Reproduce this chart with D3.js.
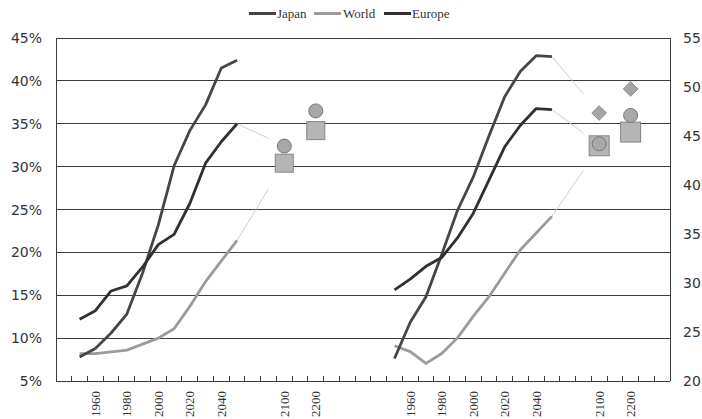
<!DOCTYPE html>
<html><head><meta charset="utf-8">
<script src="https://cdn.jsdelivr.net/npm/d3@7"></script>
<style>body{margin:0;background:#fff}svg{display:block}</style>
</head><body><svg id="c" width="702" height="419"></svg>
<script>
// ---- data ----
const categories = ["", "1950","1960","1970","1980","1990","2000","2010","2020","2030","2040","2050","", "", "2100", "", "2200", "", "", "",
                    "", "1950","1960","1970","1980","1990","2000","2010","2020","2030","2040","2050","", "", "2100", "", "2200", "", ""];
const shownLabels = ["1960","1980","2000","2020","2040","2100","2200"];
const years = ["1950","1960","1970","1980","1990","2000","2010","2020","2030","2040","2050"];
// left panel: share aged 60+ (%)
const japanShare  = [7.8, 8.8, 10.6, 12.8, 17.6, 23.2, 30.1, 34.2, 37.2, 41.5, 42.4];
const worldShare  = [8.2, 8.2, 8.4, 8.6, 9.3, 10.0, 11.1, 13.7, 16.6, 19.0, 21.4];
const europeShare = [12.2, 13.2, 15.5, 16.1, 18.3, 20.9, 22.1, 25.7, 30.4, 32.9, 35.0];
// right panel: median age (years)
const japanMedian  = [22.3, 26.0, 28.6, 32.9, 37.4, 40.8, 45.0, 49.0, 51.6, 53.2, 53.1];
const worldMedian  = [23.6, 23.0, 21.8, 22.8, 24.4, 26.6, 28.6, 31.0, 33.4, 35.1, 36.8];
const europeMedian = [29.3, 30.4, 31.7, 32.6, 34.6, 37.1, 40.5, 43.9, 46.1, 47.8, 47.7];
// long-run projections (markers)
const shareWorldProj   = {"2100": 30.4, "2200": 34.2};
const shareEuropeProj  = {"2100": 32.4, "2200": 36.5};
const medianWorldProj  = {"2100": 44.0, "2200": 45.4};
const medianEuropeProj = {"2100": 44.2, "2200": 47.1};
const medianJapanProj  = {"2100": 47.35, "2200": 49.8};
// thin connector end values (at the gap before 2100)
const shareConnEnd  = {World: 27.4, Europe: 33.3};
const medianConnEnd = {Japan: 49.3, World: 41.5, Europe: 45.3};
const leftTicks  = [5,10,15,20,25,30,35,40,45];
const rightTicks = [20,25,30,35,40,45,50,55];

// ---- layout ----
const svg = d3.select("#c");
const L = 56, R = 670, T = 38, B = 381;
const x = d3.scaleBand().domain(d3.range(categories.length)).range([L, R]).padding(0);
const yL = d3.scaleLinear().domain([5, 45]).range([B, T]);
const yR = d3.scaleLinear().domain([20, 55]).range([B, T]);
const idx = (panel, label) => categories.indexOf(label, panel === 0 ? 0 : 20);
const cx = (panel, label) => x(idx(panel, label)) + x.bandwidth() / 2;
const gapX = panel => x(panel === 0 ? 13 : 33) + x.bandwidth() / 2;

const colors = {Japan: "#464646", World: "#9b9b9b", Europe: "#303030"};

// gridlines
svg.append("g").selectAll("line").data(leftTicks).join("line")
  .attr("x1", L).attr("x2", R).attr("y1", d => yL(d)).attr("y2", d => yL(d))
  .attr("stroke", "#3c3c3c").attr("stroke-width", 1).attr("shape-rendering", "crispEdges");
// borders
svg.append("line").attr("x1", L).attr("x2", L).attr("y1", T).attr("y2", B).attr("stroke", "#3c3c3c").attr("shape-rendering", "crispEdges");
svg.append("line").attr("x1", R).attr("x2", R).attr("y1", T).attr("y2", B).attr("stroke", "#3c3c3c").attr("shape-rendering", "crispEdges");
// category ticks
svg.append("g").selectAll("line").data(d3.range(1, categories.length)).join("line")
  .attr("x1", d => x(d)).attr("x2", d => x(d)).attr("y1", B).attr("y2", B - 5)
  .attr("stroke", "#3c3c3c").attr("shape-rendering", "crispEdges");

// y labels
svg.append("g").selectAll("text").data(leftTicks).join("text")
  .attr("x", 42).attr("y", d => yL(d)).attr("dy", "0.36em").attr("text-anchor", "end")
  .attr("font-family", "DejaVu Sans").attr("font-size", 14).attr("fill", "#333")
  .text(d => d + "%");
svg.append("g").selectAll("text").data(rightTicks).join("text")
  .attr("x", 683).attr("y", d => yR(d)).attr("dy", "0.36em").attr("text-anchor", "start")
  .attr("font-family", "DejaVu Sans").attr("font-size", 14).attr("fill", "#333")
  .text(d => d);

// x labels
const xl = [];
[0, 1].forEach(p => shownLabels.forEach(l => xl.push({p, l})));
svg.append("g").selectAll("text").data(xl).join("text")
  .attr("transform", d => `translate(${cx(d.p, d.l)},391) rotate(-90)`)
  .attr("text-anchor", "end").attr("dy", "0.35em")
  .attr("font-family", "Liberation Serif").attr("font-size", 13).attr("fill", "#333")
  .text(d => d.l);

// connectors
const connectors = [
  {p: 0, y: yL, from: europeShare[10], to: shareConnEnd.Europe},
  {p: 0, y: yL, from: worldShare[10], to: shareConnEnd.World},
  {p: 1, y: yR, from: japanMedian[10], to: medianConnEnd.Japan},
  {p: 1, y: yR, from: europeMedian[10], to: medianConnEnd.Europe},
  {p: 1, y: yR, from: worldMedian[10], to: medianConnEnd.World}
];
svg.append("g").selectAll("line").data(connectors).join("line")
  .attr("x1", d => cx(d.p, "2050")).attr("y1", d => d.y(d.from))
  .attr("x2", d => gapX(d.p)).attr("y2", d => d.y(d.to))
  .attr("stroke", "#cfcfcf").attr("stroke-width", 1);

// series lines
const series = [
  {p: 0, y: yL, name: "World", v: worldShare},
  {p: 0, y: yL, name: "Japan", v: japanShare},
  {p: 0, y: yL, name: "Europe", v: europeShare},
  {p: 1, y: yR, name: "World", v: worldMedian},
  {p: 1, y: yR, name: "Japan", v: japanMedian},
  {p: 1, y: yR, name: "Europe", v: europeMedian}
];
series.forEach(s => {
  const line = d3.line().x((d, i) => cx(s.p, years[i])).y(d => s.y(d));
  svg.append("path").attr("d", line(s.v)).attr("fill", "none")
    .attr("stroke", colors[s.name]).attr("stroke-width", 2.8).attr("stroke-linejoin", "round");
});

// markers
const projYears = ["2100", "2200"];
function squares(p, y, proj, size) {
  svg.append("g").selectAll("rect").data(projYears).join("rect")
    .attr("x", d => cx(p, d) - size / 2).attr("y", d => y(proj[d]) - size / 2)
    .attr("width", size).attr("height", size)
    .attr("fill", "#b5b5b5").attr("stroke", "#858585").attr("stroke-width", 1);
}
function circles(p, y, proj) {
  svg.append("g").selectAll("circle").data(projYears).join("circle")
    .attr("cx", d => cx(p, d)).attr("cy", d => y(proj[d])).attr("r", 7)
    .attr("fill", "#a8a8a8").attr("stroke", "#777").attr("stroke-width", 1);
}
function diamonds(p, y, proj) {
  svg.append("g").selectAll("path").data(projYears).join("path")
    .attr("d", d => { const X = cx(p, d), Y = y(proj[d]), r = 7.3; return `M${X},${Y - r}L${X + r},${Y}L${X},${Y + r}L${X - r},${Y}Z`; })
    .attr("fill", "#a5a5a5").attr("stroke", "#8a8a8a").attr("stroke-width", 1);
}
squares(0, yL, shareWorldProj, 18);
circles(0, yL, shareEuropeProj);
squares(1, yR, medianWorldProj, 20);
circles(1, yR, medianEuropeProj);
diamonds(1, yR, medianJapanProj);

// legend
const legend = [
  {name: "Japan", x0: 249, tx: 277},
  {name: "World", x0: 314, tx: 343},
  {name: "Europe", x0: 384, tx: 412}
];
const lg = svg.append("g");
lg.selectAll("line").data(legend).join("line")
  .attr("x1", d => d.x0).attr("x2", d => d.x0 + 27).attr("y1", 13.5).attr("y2", 13.5)
  .attr("stroke", d => colors[d.name]).attr("stroke-width", 3);
lg.selectAll("text").data(legend).join("text")
  .attr("x", d => d.tx).attr("y", 13.5).attr("dy", "0.35em")
  .attr("font-family", "Liberation Serif").attr("font-size", 13).attr("fill", "#333")
  .text(d => d.name);
</script></body></html>
